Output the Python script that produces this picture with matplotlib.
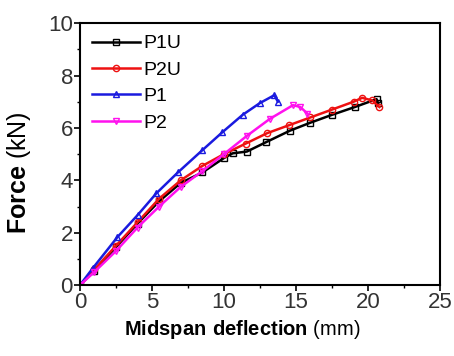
import matplotlib
matplotlib.use("Agg")
import matplotlib.pyplot as plt
from matplotlib.ticker import MultipleLocator

plt.rcParams['font.family'] = ['Liberation Sans', 'DejaVu Sans']
plt.rcParams['mathtext.fontset'] = 'custom'
plt.rcParams['mathtext.rm'] = 'Liberation Sans'
plt.rcParams['mathtext.bf'] = 'Liberation Sans:bold'

# load-deflection data
p1u_x = [0, 1, 2.5, 4, 5.5, 7, 8.5, 10, 10.6, 11.6, 12.9, 14.6, 16, 17.5, 19.1, 20.6, 20.7]
p1u_y = [0, 0.55, 1.45, 2.35, 3.2, 3.9, 4.3, 4.85, 5.03, 5.1, 5.45, 5.9, 6.2, 6.5, 6.8, 7.1, 6.95]

p2u_x = [0, 1, 2.5, 4, 5.5, 7, 8.5, 10, 11.5, 13, 14.5, 16, 17.5, 19, 19.6, 20.3, 20.8]
p2u_y = [0, 0.6, 1.5, 2.4, 3.3, 4.0, 4.55, 5.0, 5.4, 5.8, 6.1, 6.4, 6.7, 7.0, 7.15, 7.05, 6.8]

p1_x = [0, 0.9, 2.6, 4.0, 5.3, 6.8, 8.5, 9.9, 11.3, 12.5, 13.5, 13.75]
p1_y = [0, 0.65, 1.83, 2.67, 3.5, 4.3, 5.15, 5.84, 6.5, 6.95, 7.25, 7.0]

p2_x = [0, 1, 2.5, 4, 5.5, 7, 8.5, 10, 11.6, 13.2, 14.8, 15.3, 15.8]
p2_y = [0, 0.5, 1.3, 2.2, 3.0, 3.75, 4.35, 5.0, 5.7, 6.35, 6.87, 6.8, 6.55]

fig = plt.figure(figsize=(4.54, 3.56), dpi=100)
ax = fig.add_axes([0.176, 0.199, 0.793, 0.736])

ax.plot(p1u_x, p1u_y, '-', color='black', marker='s', mfc='none', ms=4.5, lw=1.8, label='P1U')
ax.plot(p2u_x, p2u_y, '-', color='#ee1111', marker='o', mfc='none', ms=4.5, lw=1.8, label='P2U')
ax.plot(p1_x, p1_y, '-', color='#1a1adf', marker='^', mfc='none', ms=4.5, lw=1.8, label='P1')
ax.plot(p2_x, p2_y, '-', color='#ff11ee', marker='v', mfc='none', ms=4.5, lw=1.8, label='P2')

ax.set_xlim(0, 25)
ax.set_ylim(0, 10)
ax.xaxis.set_major_locator(MultipleLocator(5))
ax.xaxis.set_minor_locator(MultipleLocator(2.5))
ax.yaxis.set_major_locator(MultipleLocator(2))
ax.yaxis.set_minor_locator(MultipleLocator(1))
ax.tick_params(which='major', direction='out', length=4, width=1.2, labelsize=16, labelcolor='#333333', pad=1)
ax.tick_params(which='minor', direction='out', length=2, width=1)
for s in ax.spines.values():
    s.set_linewidth(1.5)

ax.set_xlabel(r'$\mathbf{Midspan\ deflection}$ (mm)', fontsize=14.5)
ax.xaxis.set_label_coords(0.45, -0.125)
ax.set_ylabel(r'$\mathbf{Force}$ (kN)', fontsize=18)
ax.yaxis.set_label_coords(-0.13, 0.43)

ax.legend(loc='upper left', frameon=False, fontsize=14, handlelength=2.5,
          handletextpad=0.15, labelspacing=0.45, borderaxespad=0.2,
          bbox_to_anchor=(0.0, 1.0))

fig.savefig('out.png', dpi=100)
